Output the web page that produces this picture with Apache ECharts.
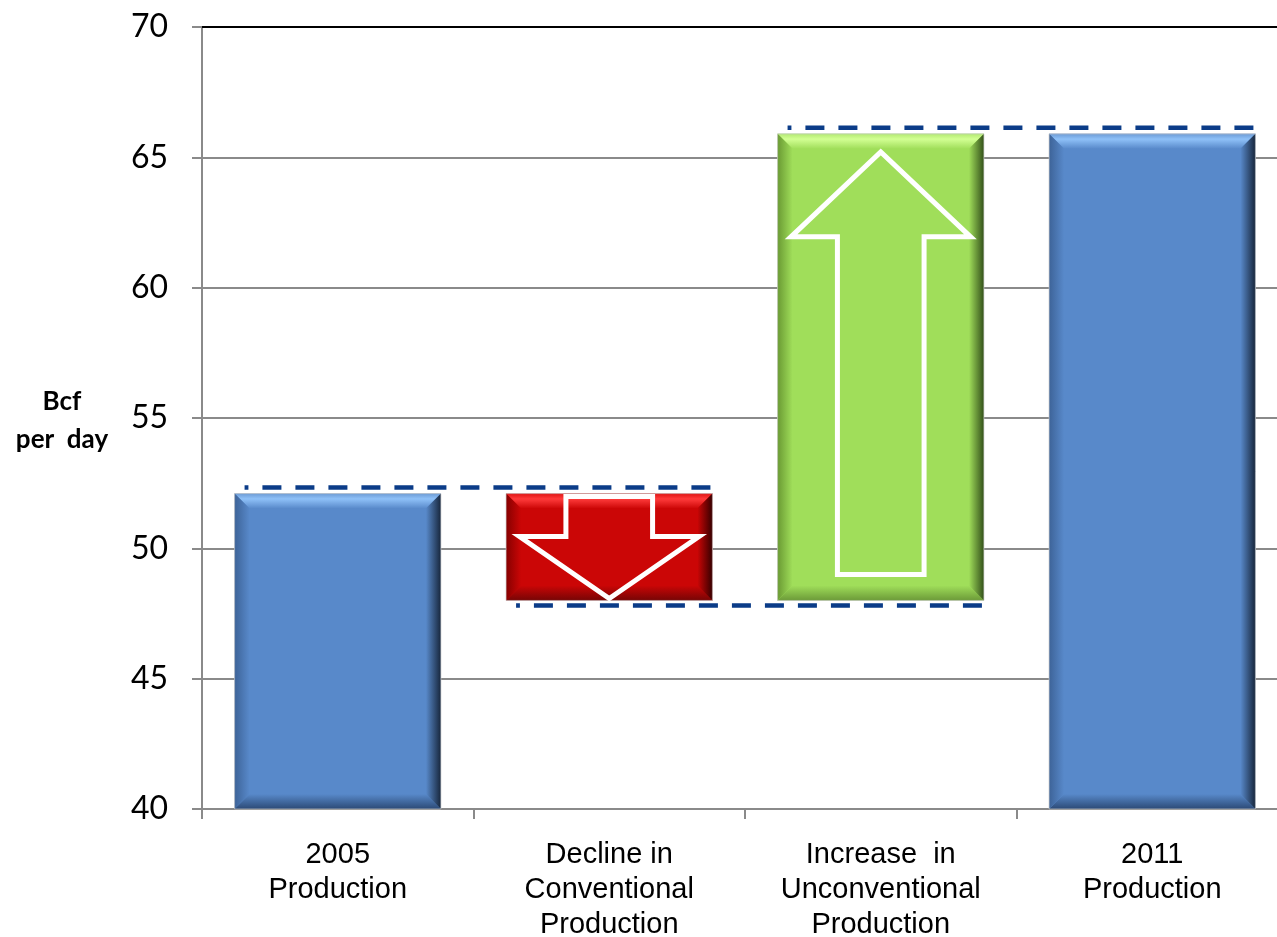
<!DOCTYPE html>
<html>
<head>
<meta charset="utf-8">
<title>Natural gas production, 2005 to 2011</title>
<script src="https://cdn.jsdelivr.net/npm/echarts@6/dist/echarts.min.js"></script>
<style>
  html, body { margin: 0; padding: 0; background: #ffffff; overflow: hidden; }
  #chart { width: 1289px; height: 937px; }
</style>
</head>
<body>
<div id="chart"></div>
<script>
// Categories along the x axis
const categories = [
  '2005\nProduction',
  'Decline in\nConventional\nProduction',
  'Increase  in\nUnconventional\nProduction',
  '2011\nProduction'
];
// Production levels (Bcf per day)
const production2005 = 52.1;
const production2011 = 65.9;
// Changes between the two years (Bcf per day)
const declineConventional = -4.1;
const increaseUnconventional = 17.9;
// Y axis ticks
const yTicks = [40, 45, 50, 55, 60, 65, 70];

const yMin = yTicks[0], yMax = yTicks[yTicks.length - 1];

// Waterfall steps: running level after each change
const levelAfterDecline = production2005 + declineConventional;
const levelAfterIncrease = levelAfterDecline + increaseUnconventional;

// [category index, low, high, palette key, arrow direction]
const barData = [
  [0, yMin, production2005, 'blue', 0],
  [1, levelAfterDecline, production2005, 'red', -1],
  [2, levelAfterDecline, levelAfterIncrease, 'green', 1],
  [3, yMin, production2011, 'blue', 0]
];

// Dashed connectors: [from index, to index, level, side (+1 above / -1 below)]
const connectorData = [
  [0, 1, production2005, 1],
  [1, 2, levelAfterDecline, -1],
  [2, 3, production2011, 1]
];

const palettes = {
  blue:  { main: '#5889ca', light: '#8fc1f8', edge: '#6c9bd6', left: '#3d6398', right: '#17263c', bottom: '#2c4a76' },
  red:   { main: '#cb0606', light: '#ff3b3b', edge: '#e01515', left: '#860000', right: '#360000', bottom: '#760505' },
  green: { main: '#a0de5a', light: '#d2ff93', edge: '#b3ea72', left: '#6a9a33', right: '#33501a', bottom: '#6c9a38' }
};

const BAR_RATIO = 0.76;

function lg(x1, y1, x2, y2, stops) {
  return new echarts.graphic.LinearGradient(x1, y1, x2, y2,
    stops.map(c => ({ offset: c[0], color: c[1] })));
}

// Bar body with bevelled edges
function bevelBar(x, y, w, h, p) {
  const b = Math.min(15, h / 2.2, w / 2.2);
  return [
    { type: 'rect', shape: { x: x, y: y, width: w, height: h }, style: { fill: p.main } },
    { type: 'polygon', shape: { points: [[x, y], [x + w, y], [x + w - b, y + b], [x + b, y + b]] },
      style: { fill: lg(0, 0, 0, 1, [[0, p.edge], [0.35, p.light], [1, p.main]]) } },
    { type: 'polygon', shape: { points: [[x, y + h], [x + w, y + h], [x + w - b, y + h - b], [x + b, y + h - b]] },
      style: { fill: lg(0, 0, 0, 1, [[0, p.main], [1, p.bottom]]) } },
    { type: 'polygon', shape: { points: [[x, y], [x + b, y + b], [x + b, y + h - b], [x, y + h]] },
      style: { fill: lg(0, 0, 1, 0, [[0, p.left], [1, p.main]]) } },
    { type: 'polygon', shape: { points: [[x + w, y], [x + w - b, y + b], [x + w - b, y + h - b], [x + w, y + h]] },
      style: { fill: lg(0, 0, 1, 0, [[0, p.main], [1, p.right]]) } },
    { type: 'rect', shape: { x: x, y: y, width: w, height: h },
      style: { fill: 'none', stroke: 'rgba(200,200,200,0.7)', lineWidth: 1 } }
  ];
}

// White outlined block arrow inside a change bar
function arrowShape(cx, top, bottom, w, h, dir) {
  const shaftHalf = w * 0.21;
  const headHalf = w * 0.435;
  const small = h < 200;
  const headLen = small ? h * 0.58 : 85;
  const tipInset = small ? 2 : 18;
  const tailInset = small ? 3 : 26;
  let tail, tip, base;
  if (dir < 0) {
    tail = top + tailInset; tip = bottom - tipInset; base = tip - headLen;
  } else {
    tail = bottom - tailInset; tip = top + tipInset; base = tip + headLen;
  }
  const pts = [[cx - shaftHalf, tail], [cx + shaftHalf, tail], [cx + shaftHalf, base], [cx + headHalf, base],
               [cx, tip], [cx - headHalf, base], [cx - shaftHalf, base]];
  return { type: 'polygon', shape: { points: pts },
           style: { fill: 'none', stroke: '#ffffff', lineWidth: 5, lineJoin: 'miter' } };
}

function renderBar(params, api) {
  const idx = api.value(0);
  const low = api.value(1);
  const high = api.value(2);
  const item = barData[params.dataIndex];
  const p = palettes[item[3]];
  const dir = item[4];
  const band = api.size([1, 0])[0];
  const w = band * BAR_RATIO;
  const pHigh = api.coord([idx, high]);
  const pLow = api.coord([idx, low]);
  const x = pHigh[0] - w / 2;
  const y = pHigh[1];
  const h = pLow[1] - pHigh[1];
  const children = bevelBar(x, y, w, h, p);
  if (dir !== 0) children.push(arrowShape(pHigh[0], y, y + h, w, h, dir));
  return { type: 'group', children: children };
}

// Dashed level line joining neighbouring bars (drawn right to left so it ends on a dash)
function renderConnector(params, api) {
  const from = api.value(0), to = api.value(1), level = api.value(2), side = api.value(3);
  const band = api.size([1, 0])[0];
  const w = band * BAR_RATIO;
  const a = api.coord([from, level]);
  const b = api.coord([to, level]);
  const y = a[1] - side * (side > 0 ? 6 : 5);
  return {
    type: 'line',
    shape: { x1: b[0] + w / 2 - 2, y1: y, x2: a[0] - w / 2 + 10, y2: y },
    style: { stroke: '#0b3c88', lineWidth: 4.5, lineDash: [19, 14] },
    z2: 10
  };
}

const chart = echarts.init(document.getElementById('chart'), null, { renderer: 'canvas' });

chart.setOption({
  backgroundColor: '#ffffff',
  animation: false,
  grid: { left: 202, top: 27, right: 1, bottom: 128, containLabel: false, outerBoundsMode: 'none' },
  xAxis: [{
    type: 'category',
    data: categories,
    boundaryGap: true,
    axisLine: { show: true, lineStyle: { color: '#8a8a8a', width: 2 } },
    axisTick: { show: true, length: 10, lineStyle: { color: '#8a8a8a', width: 2 } },
    axisLabel: {
      color: '#000000',
      fontFamily: 'Liberation Sans, Arial, sans-serif',
      fontSize: 29,
      lineHeight: 35,
      margin: 28,
      interval: 0
    },
    splitLine: { show: false }
  }, {
    type: 'category',
    data: categories,
    position: 'top',
    axisLine: { show: true, lineStyle: { color: '#000000', width: 2 } },
    axisTick: { show: false },
    axisLabel: { show: false }
  }],
  yAxis: {
    type: 'value',
    min: yMin,
    max: yMax,
    interval: 5,
    axisLine: { show: true, lineStyle: { color: '#8a8a8a', width: 2 } },
    axisTick: { show: true, length: 10, lineStyle: { color: '#8a8a8a', width: 2 } },
    axisLabel: {
      color: '#000000',
      fontFamily: 'Lato, sans-serif',
      fontSize: 32,
      margin: 34,
      formatter: function (v) { return yTicks.indexOf(v) >= 0 ? String(v) : ''; }
    },
    splitLine: { show: true, lineStyle: { color: '#8a8a8a', width: 2 } }
  },
  graphic: [{
    type: 'text',
    x: 62,
    y: 402,
    style: {
      text: 'Bcf',
      fill: '#000000',
      font: 'bold 26px Lato, sans-serif',
      align: 'center',
      verticalAlign: 'middle'
    }
  }, {
    type: 'text',
    x: 62,
    y: 440,
    style: {
      text: 'per  day',
      fill: '#000000',
      font: 'bold 26px Lato, sans-serif',
      align: 'center',
      verticalAlign: 'middle'
    }
  }],
  series: [{
    type: 'custom',
    name: 'Production',
    renderItem: renderBar,
    data: barData.map(d => [d[0], d[1], d[2]]),
    encode: { x: 0, y: [1, 2] },
    z: 2
  }, {
    type: 'custom',
    name: 'Connectors',
    renderItem: renderConnector,
    data: connectorData,
    encode: { x: [0, 1], y: 2 },
    z: 3,
    silent: true
  }]
});
</script>
</body>
</html>
